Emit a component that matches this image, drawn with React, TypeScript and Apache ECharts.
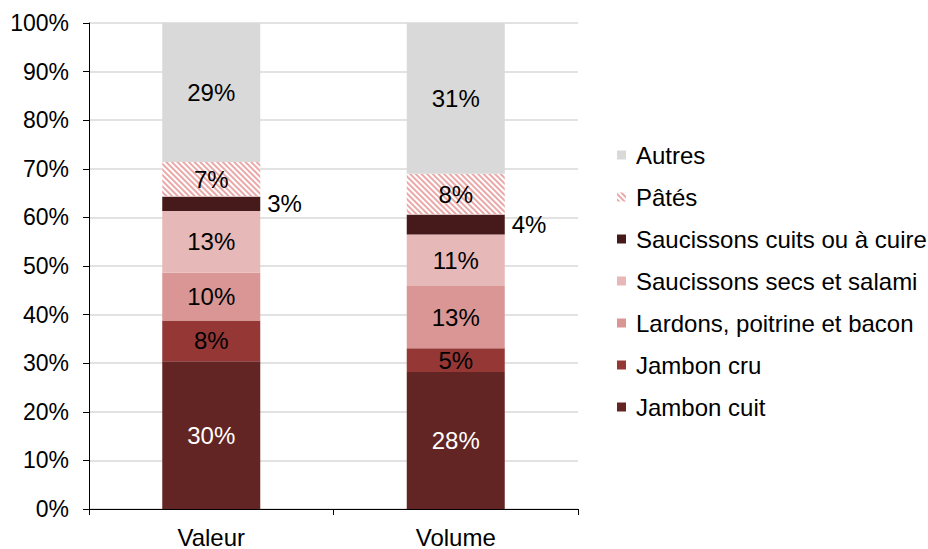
import React, { useEffect, useRef } from "react";
import * as echarts from "echarts";

const categories = ["Valeur", "Volume"];
const seriesNames = [
  "Jambon cuit",
  "Jambon cru",
  "Lardons, poitrine et bacon",
  "Saucissons secs et salami",
  "Saucissons cuits ou à cuire",
  "Pâtés",
  "Autres",
];
const jambonCuit = [30.4, 28.2];
const jambonCru = [8.4, 4.9];
const lardons = [9.8, 12.8];
const saucissonsSecs = [12.7, 10.6];
const saucissonsCuits = [3.0, 4.1];
const pates = [7.1, 8.4];
const autres = [28.6, 31.0];
const yTicks = { min: 0, max: 100, interval: 10 };

const colors = ["#632523", "#953735", "#d99694", "#e6b8b7", "#461a1a", "#ffffff", "#d9d9d9"];

const FONT = "Liberation Sans, Arial, sans-serif";
const FS = 24;

export default function App() {
  const ref = useRef<HTMLDivElement>(null);
  useEffect(() => {
    if (!ref.current) return;
    const chart = echarts.init(ref.current, null, { renderer: "svg" });
    const values = [jambonCuit, jambonCru, lardons, saucissonsSecs, saucissonsCuits, pates, autres];
    const series = seriesNames.map((name, i) => {
      const s: any = {
        name,
        type: "bar",
        stack: "total",
        barWidth: 98,
        data: values[i],
        itemStyle: { color: colors[i] },
        label: {
          show: true,
          position: i === 4 ? "right" : "inside",
          distance: 7,
          color: i === 0 ? "#ffffff" : "#000000",
          fontSize: FS,
          fontFamily: FONT,
          formatter: (p: any) => Math.round(p.value) + "%",
        },
      };
      if (i === 5) {
        s.itemStyle = {
          color: "#ffffff",
          decal: {
            symbol: "rect",
            symbolSize: 1,
            color: "#eaa8a8",
            backgroundColor: "#ffffff",
            dashArrayX: [1, 0],
            dashArrayY: [1.2, 1.6],
            rotation: Math.PI / 4,
          },
        };
      }
      return s;
    });
    chart.setOption({
      animation: false,
      backgroundColor: "#ffffff",
      textStyle: { fontFamily: FONT },
      grid: { left: 89, right: 350, top: 23, bottom: 38, containLabel: false },
      legend: {
        orient: "vertical",
        left: 617,
        top: 143,
        padding: 0,
        itemWidth: 9,
        itemHeight: 9,
        itemGap: 18,
        icon: "rect",
        textStyle: { fontSize: FS, fontFamily: FONT, color: "#000", padding: [0, 0, 0, 5] },
        data: [...seriesNames].reverse(),
        selectedMode: false,
      },
      xAxis: {
        type: "category",
        data: categories,
        axisLine: { lineStyle: { color: "#000", width: 1 } },
        axisTick: { show: true, length: 6, alignWithLabel: false, lineStyle: { color: "#000" } },
        axisLabel: { color: "#000", fontSize: FS, fontFamily: FONT, margin: 16 },
      },
      yAxis: {
        type: "value",
        min: yTicks.min,
        max: yTicks.max,
        interval: yTicks.interval,
        axisLine: { show: true, lineStyle: { color: "#000", width: 1 } },
        axisTick: { show: true, length: 6, lineStyle: { color: "#000" } },
        axisLabel: { color: "#000", fontSize: 23, fontFamily: FONT, margin: 20, formatter: "{value}%" },
        splitLine: { show: true, lineStyle: { color: "#d9d9d9", width: 1.5 } },
      },
      series,
    });
    return () => chart.dispose();
  }, []);
  return (
    <div
      ref={ref}
      style={{ width: 928, height: 549, position: "absolute", left: 0, top: 0 }}
    />
  );
}
